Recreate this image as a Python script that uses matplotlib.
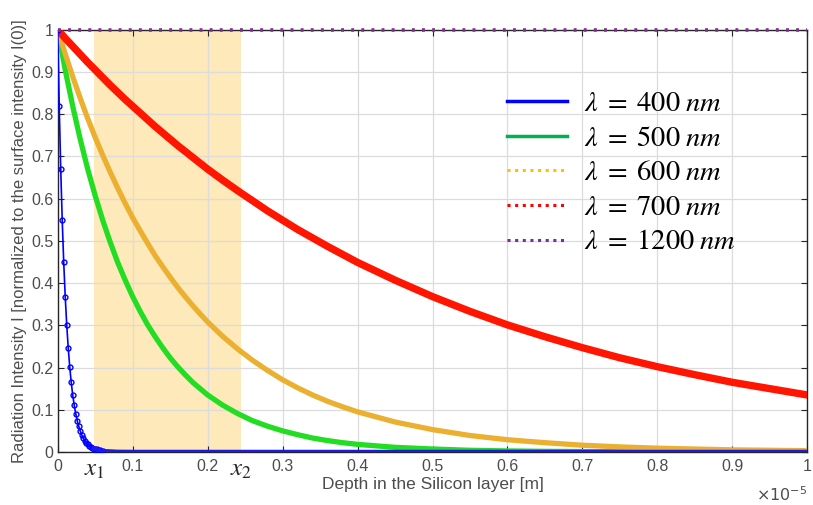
import matplotlib
matplotlib.use('Agg')
import matplotlib.pyplot as plt
from matplotlib.lines import Line2D

plt.rcParams['font.family'] = ['Liberation Sans', 'DejaVu Sans']
plt.rcParams['mathtext.fontset'] = 'stix'

# depth in units of 1e-5 m
depth = [0, 0.01, 0.02, 0.03, 0.04, 0.05, 0.06, 0.07, 0.08, 0.09, 0.10, 0.11, 0.12, 0.13, 0.14,
         0.15, 0.16, 0.17, 0.18, 0.19, 0.20, 0.22, 0.24, 0.26, 0.28, 0.30, 0.32, 0.34, 0.36,
         0.38, 0.40, 0.45, 0.50, 0.55, 0.60, 0.65, 0.70, 0.75, 0.80, 0.85, 0.90, 0.95, 1.00]
i_500 = [1.000, 0.905, 0.819, 0.741, 0.670, 0.607, 0.549, 0.497, 0.449, 0.407, 0.368, 0.333,
         0.301, 0.273, 0.247, 0.223, 0.202, 0.183, 0.165, 0.150, 0.135, 0.111, 0.091, 0.074,
         0.061, 0.050, 0.041, 0.033, 0.027, 0.022, 0.018, 0.011, 0.007, 0.004, 0.0025, 0.0015,
         0.001, 0.0006, 0.0003, 0.0002, 0.0001, 0.0001, 0.0]
i_600 = [1.000, 0.943, 0.889, 0.838, 0.790, 0.745, 0.703, 0.663, 0.625, 0.589, 0.555, 0.524,
         0.494, 0.465, 0.439, 0.414, 0.390, 0.368, 0.347, 0.327, 0.308, 0.274, 0.244, 0.217,
         0.193, 0.171, 0.152, 0.135, 0.120, 0.107, 0.095, 0.071, 0.053, 0.039, 0.029, 0.022,
         0.016, 0.012, 0.009, 0.007, 0.005, 0.004, 0.003]
i_700 = [1.000, 0.980, 0.961, 0.942, 0.923, 0.905, 0.887, 0.869, 0.852, 0.835, 0.819, 0.803,
         0.787, 0.771, 0.756, 0.741, 0.726, 0.712, 0.698, 0.684, 0.670, 0.644, 0.619, 0.595,
         0.571, 0.549, 0.527, 0.507, 0.487, 0.468, 0.449, 0.407, 0.368, 0.333, 0.301, 0.273,
         0.247, 0.223, 0.202, 0.183, 0.165, 0.150, 0.135]
i_1200 = [1.0] * len(depth)

# 400 nm sampled finely near the surface
depth_400 = [0, 0.002, 0.004, 0.006, 0.008, 0.010, 0.012, 0.014, 0.016, 0.018, 0.020, 0.022,
             0.024, 0.026, 0.028, 0.030, 0.032, 0.034, 0.036, 0.038, 0.040, 0.042, 0.044,
             0.046, 0.048, 0.050, 0.052, 0.054, 0.056, 0.058, 0.060, 0.08, 0.10, 0.2, 0.5, 1.0]
i_400 = [1.0, 0.819, 0.670, 0.549, 0.449, 0.368, 0.301, 0.247, 0.202, 0.165, 0.135, 0.111,
         0.091, 0.074, 0.061, 0.050, 0.041, 0.033, 0.027, 0.022, 0.018, 0.015, 0.012,
         0.010, 0.008, 0.007, 0.006, 0.005, 0.004, 0.003, 0.002, 0.0003, 0.0, 0.0, 0.0, 0.0]

x1, x2 = 0.049, 0.244
labels = [r'$\lambda\;=\;400\;nm$', r'$\lambda\;=\;500\;nm$', r'$\lambda\;=\;600\;nm$',
          r'$\lambda\;=\;700\;nm$', r'$\lambda\;=\;1200\;nm$']

fig = plt.figure(figsize=(8.13, 5.05), dpi=100)
ax = fig.add_axes([0.071, 0.105, 0.922, 0.836])

ax.axvspan(x1, x2, color='#FDE9B9', zorder=0, lw=0)

ax.plot(depth, i_1200, color='#7E2F8E', lw=2.6, ls=(0, (0.8, 2.0)), zorder=8, clip_on=False)
ax.plot(depth, i_700, color='#FF1500', lw=5.3, solid_capstyle='round', zorder=5)
ax.plot(depth, i_600, color='#EBB030', lw=3.8, solid_capstyle='round', zorder=4)
ax.plot(depth, i_500, color='#22DD22', lw=3.8, solid_capstyle='round', zorder=3)
ax.plot(depth_400, i_400, color='#0000FF', lw=1.2, marker='o', ms=3.5, mfc='none',
        mew=1, markevery=slice(0, 31), zorder=7)
ax.plot(depth_400[24:], i_400[24:], color='#1A1AF0', lw=3.2, zorder=7)

ax.set_xlim(0, 1)
ax.set_ylim(0, 1)
ax.set_xticks([i / 10 for i in range(11)])
ax.set_yticks([i / 10 for i in range(11)])
ax.set_xticklabels(['%g' % (i / 10) for i in range(11)])
ax.set_yticklabels(['%g' % (i / 10) for i in range(11)])
ax.tick_params(direction='in', top=True, right=True, length=4, labelsize=11.5,
               labelcolor='#4D4D4D', color='#262626')
ax.tick_params(axis='x', pad=5)
ax.tick_params(axis='y', pad=3)
ax.grid(color='#DCDCDC', lw=0.9, zorder=1)
ax.set_axisbelow(True)
for s in ax.spines.values():
    s.set_color('#262626')
    s.set_linewidth(1.0)

ax.set_xlabel('Depth in the Silicon layer [m]', fontsize=12.5, color='#4D4D4D', labelpad=2)
ax.set_ylabel('Radiation Intensity I [normalized to the surface intensity I(0)]',
              fontsize=12, color='#4D4D4D', labelpad=3)
ax.text(1.0, -0.078, r'$\times10^{-5}$', transform=ax.transAxes, ha='right', va='top',
        fontsize=11.5, color='#4D4D4D', family='DejaVu Sans', math_fontfamily='dejavusans')

ax.text(x1, -0.012, r'$x_1$', ha='center', va='top', fontsize=18, color='#2B2622',
        transform=ax.get_xaxis_transform())
ax.text(x2, -0.012, r'$x_2$', ha='center', va='top', fontsize=18, color='#2B2622',
        transform=ax.get_xaxis_transform())

handles = [Line2D([0], [0], color='#0000FF', lw=2.5),
           Line2D([0], [0], color='#00B050', lw=2.5),
           Line2D([0], [0], color='#FFC000', lw=2.2, ls=(0, (1, 1.5))),
           Line2D([0], [0], color='#FF0000', lw=2.2, ls=(0, (1, 1.5))),
           Line2D([0], [0], color='#7030A0', lw=2.2, ls=(0, (1, 1.5)))]
ax.legend(handles, labels, loc='upper left', bbox_to_anchor=(0.565, 0.915),
          frameon=False, fontsize=20.5, handlelength=2.1, handletextpad=0.6,
          labelspacing=0.3)

fig.savefig('out.png', dpi=100)
